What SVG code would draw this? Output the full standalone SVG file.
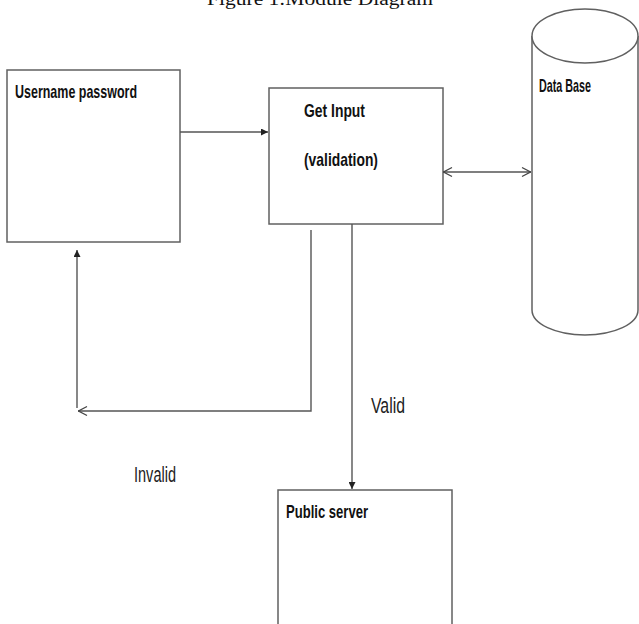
<svg xmlns="http://www.w3.org/2000/svg" width="639" height="624" viewBox="0 0 639 624">
  <style>
    .box { fill: #fff; stroke: #606060; stroke-width: 1.5; }
    .line { fill: none; stroke: #555; stroke-width: 1.4; }
    .lbl { font-family: "Liberation Sans", Arial, sans-serif; font-weight: bold; font-size: 19px; fill: #111; }
    .plain { font-family: "Liberation Sans", Arial, sans-serif; font-size: 22px; fill: #222; }
    .title { font-family: "Liberation Serif", "Times New Roman", serif; font-size: 19px; fill: #111; }
  </style>
  <defs>
    <marker id="solid" viewBox="0 0 10 10" refX="10" refY="5" markerWidth="7" markerHeight="7" markerUnits="userSpaceOnUse" orient="auto">
      <path d="M0,0 L10,5 L0,10 z" fill="#222"/>
    </marker>
    <marker id="open" viewBox="0 0 10 10" refX="10" refY="5" markerWidth="10" markerHeight="12" markerUnits="userSpaceOnUse" orient="auto-start-reverse">
      <path d="M1,0.5 L9.5,5 L1,9.5" fill="none" stroke="#444" stroke-width="1.3"/>
    </marker>
  </defs>

  <!-- caption, running off the top edge -->
  <text class="title" x="207" y="5" textLength="226" lengthAdjust="spacingAndGlyphs">Figure 1:Module Diagram</text>

  <g id="username">
    <rect class="box" x="7" y="70" width="173" height="172"/>
    <text class="lbl" x="15" y="98" textLength="122" lengthAdjust="spacingAndGlyphs">Username password</text>
  </g>

  <g id="get-input">
    <rect class="box" x="269" y="88" width="174" height="136"/>
    <text class="lbl" x="304" y="117" textLength="61" lengthAdjust="spacingAndGlyphs">Get Input</text>
    <text class="lbl" x="304" y="166" textLength="74" lengthAdjust="spacingAndGlyphs">(validation)</text>
  </g>

  <g id="database">
    <path class="box" d="M532,36 L532,310 A53,25 0 0 0 638,310 L638,36"/>
    <ellipse class="box" cx="585" cy="36" rx="53" ry="27"/>
    <text class="lbl" x="539" y="92" textLength="52" lengthAdjust="spacingAndGlyphs">Data Base</text>
  </g>

  <g id="public-server">
    <rect class="box" x="278" y="490" width="174" height="150"/>
    <text class="lbl" x="286" y="518" textLength="82" lengthAdjust="spacingAndGlyphs">Public server</text>
  </g>

  <g id="connectors">
    <line class="line" x1="180" y1="132" x2="268" y2="132" marker-end="url(#solid)"/>
    <line class="line" x1="443" y1="172" x2="531" y2="172" marker-start="url(#open)" marker-end="url(#open)"/>
    <polyline class="line" points="311,230 311,411 78,411" marker-end="url(#open)"/>
    <line class="line" x1="77" y1="408" x2="77" y2="250" marker-end="url(#solid)"/>
    <line class="line" x1="352" y1="224" x2="352" y2="489" marker-end="url(#solid)"/>
  </g>

  <text class="plain" x="371" y="413" textLength="34" lengthAdjust="spacingAndGlyphs">Valid</text>
  <text class="plain" x="134" y="482" textLength="42" lengthAdjust="spacingAndGlyphs">Invalid</text>
</svg>
